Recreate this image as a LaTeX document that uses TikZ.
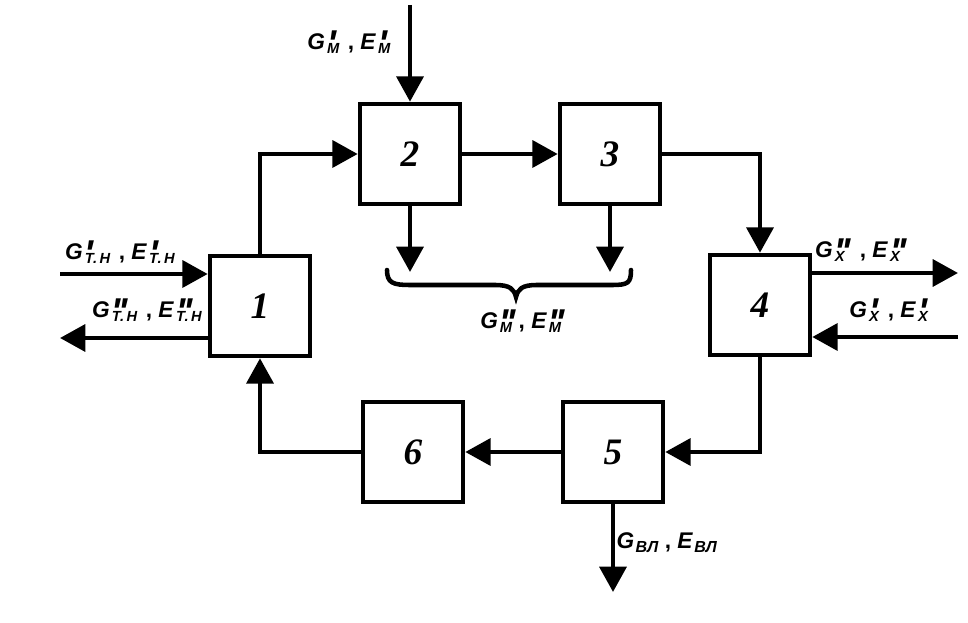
\documentclass[tikz,border=0pt]{standalone}
\usepackage{fontspec}
\setmainfont{Liberation Serif}
\newfontfamily\lblfont{Liberation Sans}
\usetikzlibrary{arrows.meta}

% flow symbol: letter, prime(s), subscript (stacked, wider one sets the width)
\newcommand{\flowsym}[3]{\textit{#1}\kern1.5pt%
  \sbox0{\raisebox{-5.8pt}{\fontsize{28}{28}\selectfont\textit{#2}}}%
  \sbox2{\raisebox{-3pt}{\fontsize{11}{11}\selectfont\textit{#3}}}%
  \ifdim\wd0>\wd2 \rlap{\usebox2}\usebox0\else\rlap{\usebox0}\usebox2\fi
  \kern1.5pt\relax}
\newcommand{\dprime}{'\kern-1.5pt'}

\tikzset{
  blk/.style={draw,line width=3.4pt,minimum size=75pt,inner sep=0pt,
    font=\fontsize{28}{28}\selectfont\bfseries\itshape},
  flow/.style={line width=3.4pt,-{Triangle[width=20pt,length=19pt]}},
  lbl/.style={inner sep=0.75pt,font=\lblfont\fontsize{17}{17}\selectfont\bfseries}
}

\begin{document}
\begin{tikzpicture}[x=0.75pt,y=0.75pt,yscale=-1,xscale=1]
\useasboundingbox (0,0) rectangle (968,623);

% Blocks
\node[blk] (b1) at (260,306) {1};
\node[blk] (b2) at (410,154) {2};
\node[blk] (b3) at (610,154) {3};
\node[blk] (b4) at (760,305) {4};
\node[blk] (b5) at (613,452) {5};
\node[blk] (b6) at (413,452) {6};

% free ends
\coordinate (min) at (410,5);
\coordinate (tnin) at (60,274);
\coordinate (tnout) at (60,338);
\coordinate (xout) at (958,273);
\coordinate (xin) at (958,337);
\coordinate (vlout) at (613,592);
\coordinate (m2) at (410,272);
\coordinate (m3) at (610,272);

% main loop
\draw[flow] (b1.north) |- (b2.west);
\draw[flow] (b2.east) -- (b3.west);
\draw[flow] (b3.east) -| (b4.north);
\draw[flow] (b4.south) |- (b5.east);
\draw[flow] (b5.west) -- (b6.east);
\draw[flow] (b6.west) -| (b1.south);

% inputs and outputs
\draw[flow] (min) -- (b2.north);
\draw[flow] (b2.south) -- (m2);
\draw[flow] (b3.south) -- (m3);
\draw[flow] (tnin) -- (tnin -| b1.west);
\draw[flow] (tnout -| b1.west) -- (tnout);
\draw[flow] (xout -| b4.east) -- (xout);
\draw[flow] (xin) -- (xin -| b4.east);
\draw[flow] (b5.south) -- (vlout);

% brace
\draw[line width=3.4pt,line cap=round] (387,270) .. controls (387,283) and (393,285) .. (410,285) -- (495,285) .. controls (510,285) and (514,289) .. (516,297)
  .. controls (518,289) and (522,285) .. (537,285) -- (612,285) .. controls (628,285) and (631,283) .. (631,270);

% Text Node
\node[lbl] (tm1) at (350,44) {\flowsym{G}{'}{М} , \flowsym{E}{'}{М}};
\node[lbl] (ttn1) at (121,254) {\flowsym{G}{'}{Т.\,Н} , \flowsym{E}{'}{Т.\,Н}};
\node[lbl] (ttn2) at (148,312) {\flowsym{G}{\dprime}{Т.\,Н} , \flowsym{E}{\dprime}{Т.\,Н}};
\node[lbl] (tx2) at (862,252) {\flowsym{G}{\dprime}{Х} , \flowsym{E}{\dprime}{Х}};
\node[lbl] (tx1) at (890,312) {\flowsym{G}{'}{Х} , \flowsym{E}{'}{Х}};
\node[lbl] (tm2) at (524,323) {\flowsym{G}{\dprime}{М}, \flowsym{E}{\dprime}{М}};
\node[lbl] (tvl) at (667,543) {\textit{G}\kern1pt\raisebox{-3pt}{\fontsize{12}{12}\selectfont\textit{ВЛ}} , \textit{E}\kern1pt\raisebox{-3pt}{\fontsize{12}{12}\selectfont\textit{ВЛ}}};

\end{tikzpicture}
\end{document}
